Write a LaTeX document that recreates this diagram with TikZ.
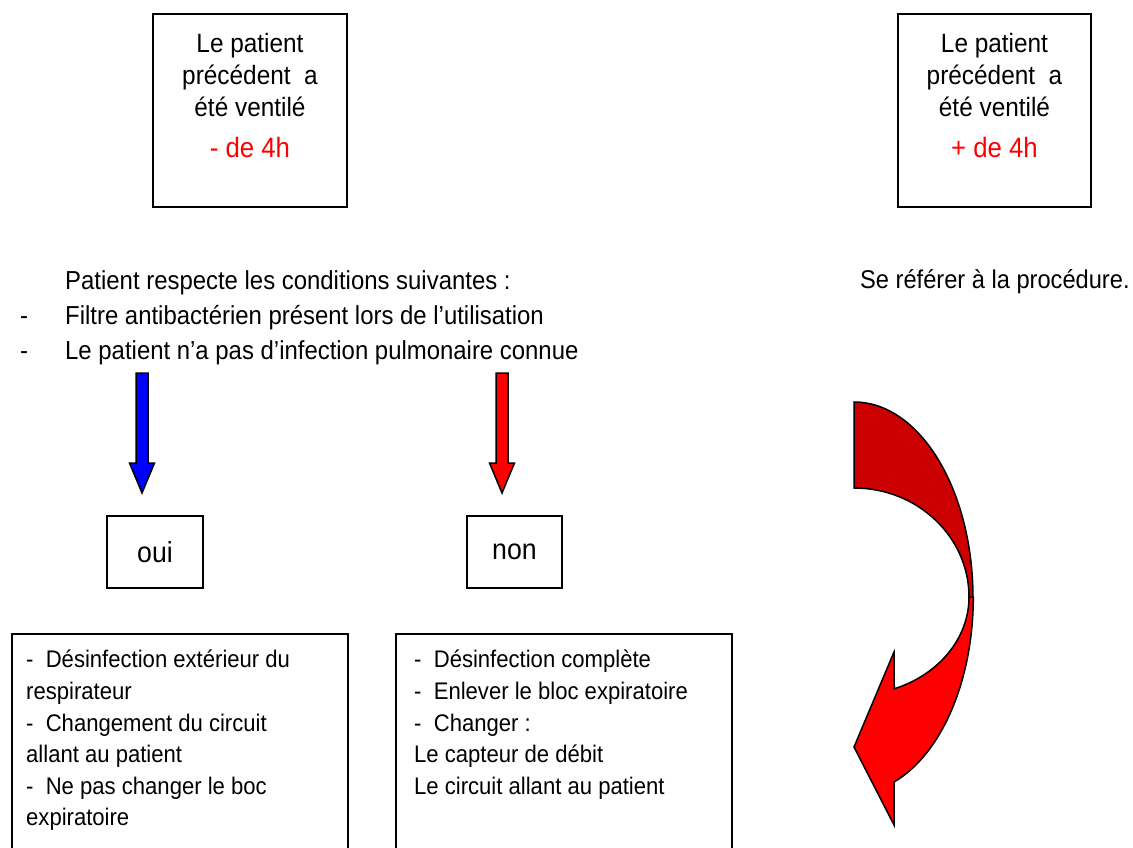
\documentclass[tikz,border=0pt]{standalone}
\usepackage{fontspec}
\setmainfont{Liberation Sans}[FakeStretch=0.92]
\usetikzlibrary{positioning}
\definecolor{rougefonce}{RGB}{204,0,0}
\definecolor{rougevif}{RGB}{255,0,0}
\definecolor{bleuvif}{RGB}{0,0,255}
\tikzstyle{boite} = [rectangle, draw, line width=1.5pt, inner sep=0pt, font=\fontsize{29}{32}\selectfont]
\tikzstyle{texte} = [inner sep=0pt, align=left, font=\fontsize{26}{35}\selectfont]
\tikzstyle{fleche} = [draw, line width=1.5pt, line join=miter]

\begin{document}
\begin{tikzpicture}[x=1pt, y=-1pt]
  \clip (0,0) rectangle (1133,848);
  % les deux cas du haut
  \node [boite, minimum width=194pt, minimum height=193pt] (moins) at (250,110.5) {};
  \node [texte, align=center, font=\fontsize{26.5}{32}\selectfont, below=20pt of moins.north] (moinsTxt) {Le patient\\précédent\ \ a\\été ventilé\\[9pt]{\color{rougevif}\fontsize{28}{32}\selectfont - de 4h}};
  \node [boite, minimum width=193pt, minimum height=193pt] (plus) at (994.5,110.5) {};
  \node [texte, align=center, font=\fontsize{26.5}{32}\selectfont, below=20pt of plus.north] (plusTxt) {Le patient\\précédent\ \ a\\été ventilé\\[9pt]{\color{rougevif}\fontsize{28}{32}\selectfont + de 4h}};
  % conditions
  \node [texte, anchor=west] (conditions) at (20,318) {\hspace*{45pt}Patient respecte les conditions suivantes :\\\makebox[45pt][l]{-}Filtre antibactérien présent lors de l’utilisation\\\makebox[45pt][l]{-}Le patient n’a pas d’infection pulmonaire connue};
  \node [texte, anchor=west, font=\fontsize{25.7}{35}\selectfont] (procedure) at (860,282) {Se référer à la procédure.};
  % oui / non
  \node [boite, minimum width=96pt, minimum height=72pt] (oui) at (155,552) {oui};
  \node [boite, minimum width=95pt, minimum height=72pt] (non) at (514.5,552) {non};
  \coordinate (ouiDepart) at (142,373);
  \coordinate (nonDepart) at (502,373);
  \draw [fleche, fill=bleuvif] (ouiDepart) ++(-6,0) -- ++(12,0) -- ++(0,90) -- ++(6.5,0) -- ++(-12.5,30) -- ++(-12.5,-30) -- ++(6.5,0) -- cycle;
  \draw [fleche, fill=rougevif] (nonDepart) ++(-6,0) -- ++(12,0) -- ++(0,90) -- ++(6.5,0) -- ++(-12.5,30) -- ++(-12.5,-30) -- ++(6.5,0) -- cycle;
  % actions
  \node [boite, anchor=north west, minimum width=336pt, minimum height=240pt] (ouiCadre) at (11,633) {};
  \node [texte, font=\fontsize{24}{31.6}\selectfont, below right=17pt and 15pt of ouiCadre.north west] (ouiActions) {-\ \ Désinfection extérieur du\\respirateur\\-\ \ Changement du circuit\\allant au patient\\-\ \ Ne pas changer le boc\\expiratoire};
  \node [boite, anchor=north west, minimum width=336pt, minimum height=240pt] (nonCadre) at (395,633) {};
  \node [texte, font=\fontsize{24}{31.6}\selectfont, below right=17pt and 19pt of nonCadre.north west] (nonActions) {-\ \ Désinfection complète\\-\ \ Enlever le bloc expiratoire\\-\ \ Changer :\\Le capteur de débit\\Le circuit allant au patient};
  % fleche courbe
  \draw [fleche, fill=rougefonce] (854,402) arc[start angle=-90, end angle=0, x radius=119, y radius=196] -- (969,597) arc[start angle=0, end angle=-90, x radius=115, y radius=109] -- cycle;
  \draw [fleche, fill=rougevif] (969,597) arc[start angle=0, end angle=69.5, x radius=115, y radius=98] -- (894,652) -- (854,747) -- (894,825) -- (894,782) arc[start angle=70.5, end angle=0, x radius=119, y radius=196] -- cycle;
\end{tikzpicture}
\end{document}
